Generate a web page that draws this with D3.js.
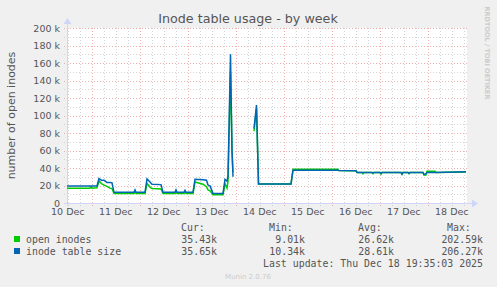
<html>
<script src='https://d3js.org/d3.v7.min.js'></script>
<style>
body { margin: 0; background: #f0f0f0; }
svg { display: block; }
</style>
<body>
<svg width="497" height="287"></svg>
<script>
// hours since the graph start (Dec 10 11:35), with the two series (in k)
var hours = [0, 11.5, 12, 12.5, 15, 16, 17.25, 18.5, 20, 21.5, 22.5, 23.5, 33.5, 34, 34.5, 39, 40, 41.5, 42.5,
    47, 48, 54, 54.5, 55, 58.5, 59, 59.5, 63, 64, 68, 69.75, 70.5, 71.5, 73, 78, 79, 80, 80.5, 81.75, 82.5, 83,
    90, 93.5, 94.75, 95.75, 112, 113, 135.5, 136, 144.5, 145, 147.5, 148, 148.5, 152.5, 153, 153.5, 156.5, 157,
    157.5, 167, 167.5, 168, 170.5, 171, 171.5, 178, 178.5, 179.5, 180, 184, 184.5, 199.5];
var openInodes = [17, 17, 18.5, 17, 17.5, 25.5, 22, 20.5, 19, 17, 16.5, 11, 11, 13, 11, 11, 22.5, 18, 16.5,
    16, 11, 11, 13.5, 11, 11, 13, 11, 11, 24, 21.5, 18.6, 15, 14, 9.5, 9.5, 22, 17, 25, 150, 60, 35,
    null, 82, 108, 21.7, 21.7, 38.5, 38.5, 37, 36.8, 35, 35, 33.5, 35, 35, 33.5, 35, 35, 33,
    35, 35, 33, 35, 35, 33.5, 35, 35, 32, 32, 36.2, 36.2, 35, 35.43];
var tableSize = [19.5, 19.5, 19.5, 19.5, 19.5, 28, 26, 26, 23.5, 23.5, 23, 12.2, 12.2, 15, 12.2, 12.2, 27.5, 24, 21.4,
    21, 12.2, 12.2, 15, 12.2, 12.2, 14.5, 12.2, 12.2, 27, 26.5, 26, 20.5, 19.5, 11, 11, 27, 25, 30, 170, 60, 30,
    null, 85, 112, 21.7, 21.7, 37.4, 37.4, 37, 36.8, 35, 35, 35, 35, 35, 34.5, 35, 35, 34,
    35, 35, 33, 35, 35, 34, 35, 35, 32.5, 33.5, 35, 35, 35, 35.65];
var yTicks = [0, 20, 40, 60, 80, 100, 120, 140, 160, 180, 200];
var legendNames = ["open inodes", "inode table size"];
var legendColors = ["#00cc00", "#0066b3"];
var curVals = ["35.43k", "35.65k"];
var minVals = ["9.01k", "10.34k"];
var avgVals = ["26.62k", "28.61k"];
var maxVals = ["202.59k", "206.27k"];

var start = new Date(Date.UTC(2025, 11, 10, 11, 35));
var end = new Date(Date.UTC(2025, 11, 18, 19, 35));
var plotL = 67, plotR = 467, plotT = 28, plotB = 203;

var svg = d3.select("svg");
var x = d3.scaleUtc().domain([start, end]).range([plotL, plotR]);
var y = d3.scaleLinear().domain([0, 200]).range([plotB, plotT]);

svg.append("rect").attr("x", plotL).attr("y", plotT).attr("width", plotR - plotL).attr("height", plotB - plotT)
    .attr("fill", "white");

// minor grid
var g = svg.append("g");
g.selectAll(".hmin").data(d3.range(10, 200, 20)).enter().append("line")
    .attr("x1", plotL - 3).attr("x2", plotR + 2)
    .attr("y1", function(d) { return Math.round(y(d)) + 0.5; })
    .attr("y2", function(d) { return Math.round(y(d)) + 0.5; })
    .attr("stroke", "#d4d4d4").attr("stroke-dasharray", "1,2");
g.selectAll(".vmin").data(d3.utcHour.every(6).range(start, end)).enter().append("line")
    .attr("x1", function(d) { return Math.round(x(d)) + 0.5; })
    .attr("x2", function(d) { return Math.round(x(d)) + 0.5; })
    .attr("y1", plotT).attr("y2", plotB + 3)
    .attr("stroke", "#d4d4d4").attr("stroke-dasharray", "1,2");
// major grid
g.selectAll(".hmaj").data(yTicks.slice(1)).enter().append("line")
    .attr("x1", plotL - 3).attr("x2", plotR + 2)
    .attr("y1", function(d) { return Math.round(y(d)) + 0.5; })
    .attr("y2", function(d) { return Math.round(y(d)) + 0.5; })
    .attr("stroke", "#f0b0b0").attr("stroke-dasharray", "1,2");
g.selectAll(".vmaj").data(d3.utcDay.range(start, end)).enter().append("line")
    .attr("x1", function(d) { return Math.round(x(d)) + 0.5; })
    .attr("x2", function(d) { return Math.round(x(d)) + 0.5; })
    .attr("y1", plotT).attr("y2", plotB + 3)
    .attr("stroke", "#f0b0b0").attr("stroke-dasharray", "1,2");

// axis lines with arrows
svg.append("line").attr("x1", plotL - 3).attr("x2", 474).attr("y1", plotB + 0.5).attr("y2", plotB + 0.5)
    .attr("stroke", "#cfd6f8");
svg.append("line").attr("x1", plotL + 0.5).attr("x2", plotL + 0.5).attr("y1", plotB + 3).attr("y2", 22)
    .attr("stroke", "#cfd6f8");
svg.append("path").attr("d", "M472,199.5L478,203.5L472,207.5Z").attr("fill", "#cfd6f8");
svg.append("path").attr("d", "M63.5,24L67.5,18L71.5,24Z").attr("fill", "#cfd6f8");

// tick labels
svg.selectAll(".ylab").data(yTicks).enter().append("text")
    .attr("x", 60).attr("y", function(d) { return y(d) + 3.5; })
    .attr("text-anchor", "end").attr("font-family", "DejaVu Sans").attr("font-size", "9.5px")
    .attr("fill", "#555")
    .text(function(d) { return d == 0 ? "0" : d + " k"; });
svg.selectAll(".xlab").data(d3.utcDay.range(d3.utcDay.floor(start), end)).enter().append("text")
    .attr("x", function(d) { return x(d3.utcHour.offset(d, 12)); }).attr("y", 215)
    .attr("text-anchor", "middle").attr("font-family", "DejaVu Sans").attr("font-size", "9.5px")
    .attr("fill", "#555")
    .text(function(d) { return d3.utcFormat("%d %b")(d); });

// series
var series = [openInodes, tableSize];
series.forEach(function(vals, i) {
    var line = d3.line()
        .defined(function(d) { return vals[d] != null; })
        .x(function(d) { return x(new Date(start.getTime() + hours[d] * 3600000)); })
        .y(function(d) { return y(vals[d]); });
    svg.append("path").attr("d", line(d3.range(hours.length)))
        .attr("fill", "none").attr("stroke", legendColors[i]).attr("stroke-width", 1.5);
});

// titles
svg.append("text").attr("x", 248).attr("y", 23).attr("text-anchor", "middle")
    .attr("font-family", "DejaVu Sans").attr("font-size", "12.7px").attr("fill", "#555")
    .text("Inode table usage - by week");
svg.append("text").attr("transform", "translate(15,115.5) rotate(-90)").attr("text-anchor", "middle")
    .attr("font-family", "DejaVu Sans").attr("font-size", "11px").attr("fill", "#555")
    .text("number of open inodes");
svg.append("text").attr("transform", "translate(485,53) rotate(90)").attr("text-anchor", "middle")
    .attr("font-family", "DejaVu Sans").attr("font-size", "6.5px").attr("font-weight", "bold").attr("fill", "#ccc")
    .text("RRDTOOL / TOBI OETIKER");

// legend
var mono = "DejaVu Sans Mono";
var heads = [["Cur:", 181], ["Min:", 269], ["Avg:", 358], ["Max:", 447]];
heads.forEach(function(h) {
    svg.append("text").attr("x", h[1]).attr("y", 231).attr("font-family", mono).attr("font-size", "9.9px")
        .attr("fill", "#555").text(h[0]);
});
legendNames.forEach(function(name, i) {
    var yy = 243 + i * 12;
    svg.append("rect").attr("x", 14).attr("y", yy - 7).attr("width", 6).attr("height", 6).attr("fill", legendColors[i]);
    svg.append("text").attr("x", 26).attr("y", yy).attr("font-family", mono).attr("font-size", "9.9px")
        .attr("fill", "#555").text(name);
    [[curVals, 217], [minVals, 305], [avgVals, 394], [maxVals, 483]].forEach(function(c) {
        svg.append("text").attr("x", c[1]).attr("y", yy).attr("text-anchor", "end").attr("font-family", mono)
            .attr("font-size", "9.9px").attr("fill", "#555").text(c[0][i]);
    });
});
svg.append("text").attr("x", 483).attr("y", 267).attr("text-anchor", "end").attr("font-family", mono)
    .attr("font-size", "9.9px").attr("fill", "#555").text("Last update: Thu Dec 18 19:35:03 2025");
svg.append("text").attr("x", 248).attr("y", 279).attr("text-anchor", "middle").attr("font-family", "DejaVu Sans")
    .attr("font-size", "7px").attr("fill", "#ccc").text("Munin 2.0.76");
</script>
</body>
</html>
